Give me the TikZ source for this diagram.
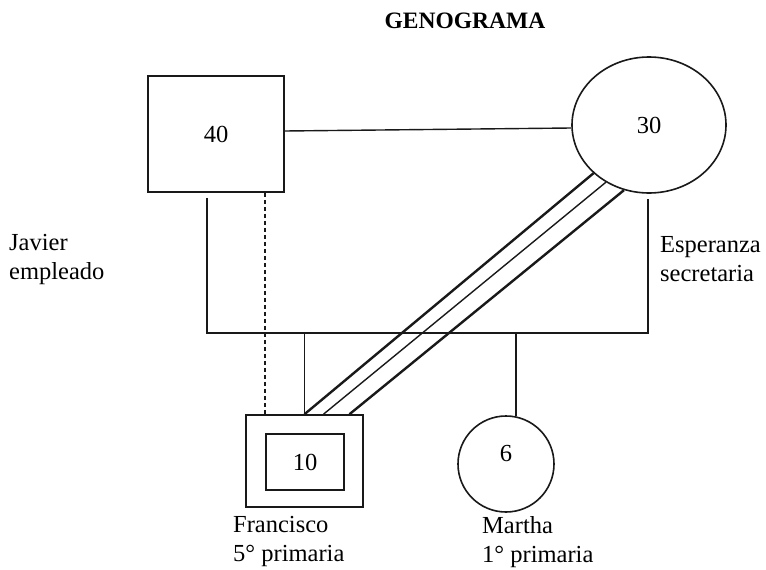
\documentclass[tikz,border=0pt]{standalone}
\usepackage{fontspec}
\setmainfont{Liberation Serif}
\usepackage{tikz}
\usetikzlibrary{positioning, shapes.geometric}
\definecolor{lineac}{RGB}{25,25,25}

\begin{document}
\begin{tikzpicture}[x=1pt, y=-1pt, font=\fontsize{24.5}{29}\selectfont,
  linea/.style={lineac, line width=1.4pt},
  doble/.style={lineac, line width=2.4pt},
  persona/.style={draw=lineac, line width=1.6pt, inner sep=0pt},
  rotulo/.style={align=left, inner sep=0pt, anchor=north west}]
  \useasboundingbox (0,0) rectangle (766,570);
  \node[font=\fontsize{23.5}{28}\selectfont\bfseries] (titulo) at (465,21) {GENOGRAMA};
  % padres
  \node[persona, rectangle, minimum width=136pt, minimum height=116pt] (padre) at (216,134) {40};
  \node[persona, ellipse, minimum width=154pt, minimum height=136pt] (madre) at (649,125) {30};
  \node[rotulo] (javier) at (9,234) {Javier\\empleado};
  \node[rotulo] (esperanza) at (660,236) {Esperanza\\secretaria};
  % hijos
  \node[persona, rectangle, minimum width=117pt, minimum height=92pt] (hijo) at (304.5,461) {};
  \node[persona, rectangle, minimum width=78pt, minimum height=56pt] (hijo-int) at (305,462) {10};
  \node[persona, circle, minimum size=96pt, text depth=22pt] (hija) at (506,464) {6};
  \node[rotulo] (francisco) at (233,516) {Francisco\\5° primaria};
  \node[rotulo] (martha) at (482,516) {Martha\\1° primaria};
  % union y barra de hermanos
  \draw[linea] ([yshift=3pt]padre.east) -- ([yshift=-3pt]madre.west);
  \coordinate (barra-izq) at (207,333);
  \coordinate (barra-der) at (648,333);
  \draw[linea] ([xshift=-9pt, yshift=-5pt]padre.south) -- (barra-izq) -- (barra-der)
    -- ([xshift=-1pt, yshift=-5pt]madre.south);
  \draw[linea] (hijo.north |- barra-izq) -- (hijo.north);
  \draw[linea] (hija.78 |- barra-der) -- (hija.78);
  % relacion distante con el padre
  \coordinate (guion) at ([xshift=49pt]padre.south);
  \draw[linea, dash pattern=on 4pt off 3pt] (guion) -- (guion |- hijo.north);
  % relacion muy estrecha con la madre
  \draw[doble] (hijo.north) -- (madre.221);
  \draw[linea] ([xshift=19pt]hijo.north) -- (madre.233);
  \draw[doble] ([xshift=45pt]hijo.north) -- (madre.249);
\end{tikzpicture}
\end{document}
